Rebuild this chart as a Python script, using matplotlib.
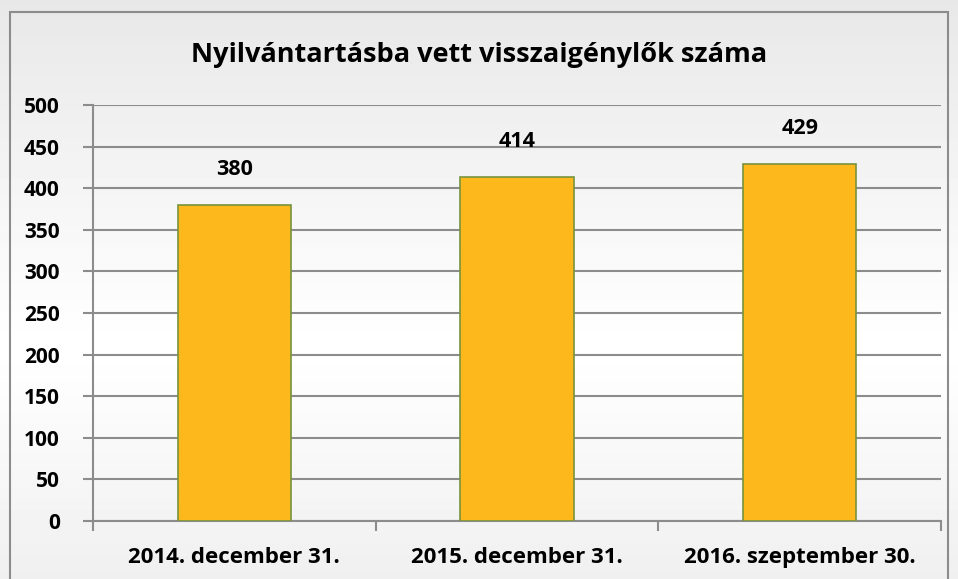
import numpy as np
import matplotlib.pyplot as plt

# adatok
categories = ['2014. december 31.', '2015. december 31.', '2016. szeptember 30.']
values = [380, 414, 429]
yticks = np.arange(0, 501, 50)

plt.rcParams['font.family'] = ['Open Sans', 'DejaVu Sans']
plt.rcParams['font.weight'] = 'bold'

fig = plt.figure(figsize=(9.58, 5.79), dpi=100)

# háttér színátmenet (szürke felül, fehér középen)
bg = fig.add_axes([0, 0, 1, 1], zorder=-10)
grad = np.concatenate([np.linspace(0.91, 1.0, 60), np.linspace(1.0, 0.94, 40)])
bg.imshow(grad[:, None], cmap='gray', vmin=0, vmax=1, aspect='auto',
          extent=[0, 1, 0, 1], origin='upper')
bg.set_xlim(0, 1)
bg.set_ylim(0, 1)
bg.axis('off')
fig.patch.set_facecolor('white')
bg.add_patch(plt.Rectangle((10 / 958, -0.01), 938 / 958, 1 - 12 / 579 + 0.01,
                           fill=False, edgecolor='#8c8c8c', linewidth=1.5,
                           transform=bg.transAxes))

ax = fig.add_axes([93 / 958, 1 - 521 / 579, (941 - 93) / 958, (521 - 105) / 579])
ax.patch.set_alpha(0)

x = np.arange(len(categories))
ax.bar(x, values, width=0.4, color='#fdb91b', edgecolor='#77933c', linewidth=1.2, zorder=3)

for xi, v in zip(x, values):
    ax.text(xi, v + 30, str(v), ha='center', va='bottom', fontsize=15.5, fontweight='bold')

ax.set_xlim(-0.5, 2.5)
ax.set_ylim(0, 500)
ax.set_yticks(yticks)
ax.set_yticklabels([str(t) for t in yticks], fontsize=15, fontweight='bold')
ax.yaxis.grid(True, color='#8c8c8c', linewidth=1.5, zorder=0)
ax.set_axisbelow(True)

ax.set_xticks(x)
ax.set_xticklabels(categories, fontsize=16, fontweight='bold')
ax.tick_params(axis='x', length=0, pad=19)
ax.set_xticks([-0.5, 0.5, 1.5, 2.5], minor=True)
ax.tick_params(axis='x', which='minor', length=7, width=1.5, color='#8c8c8c')
ax.tick_params(axis='y', length=7, width=1.5, color='#8c8c8c', pad=17)

for s in ['top', 'right']:
    ax.spines[s].set_visible(False)
for s in ['left', 'bottom']:
    ax.spines[s].set_color('#8c8c8c')
    ax.spines[s].set_linewidth(1.5)

fig.text(0.5, 1 - 55 / 579, 'Nyilvántartásba vett visszaigénylők száma',
         ha='center', va='center', fontsize=19.5, fontweight='bold')

fig.savefig('out.png', dpi=100)
